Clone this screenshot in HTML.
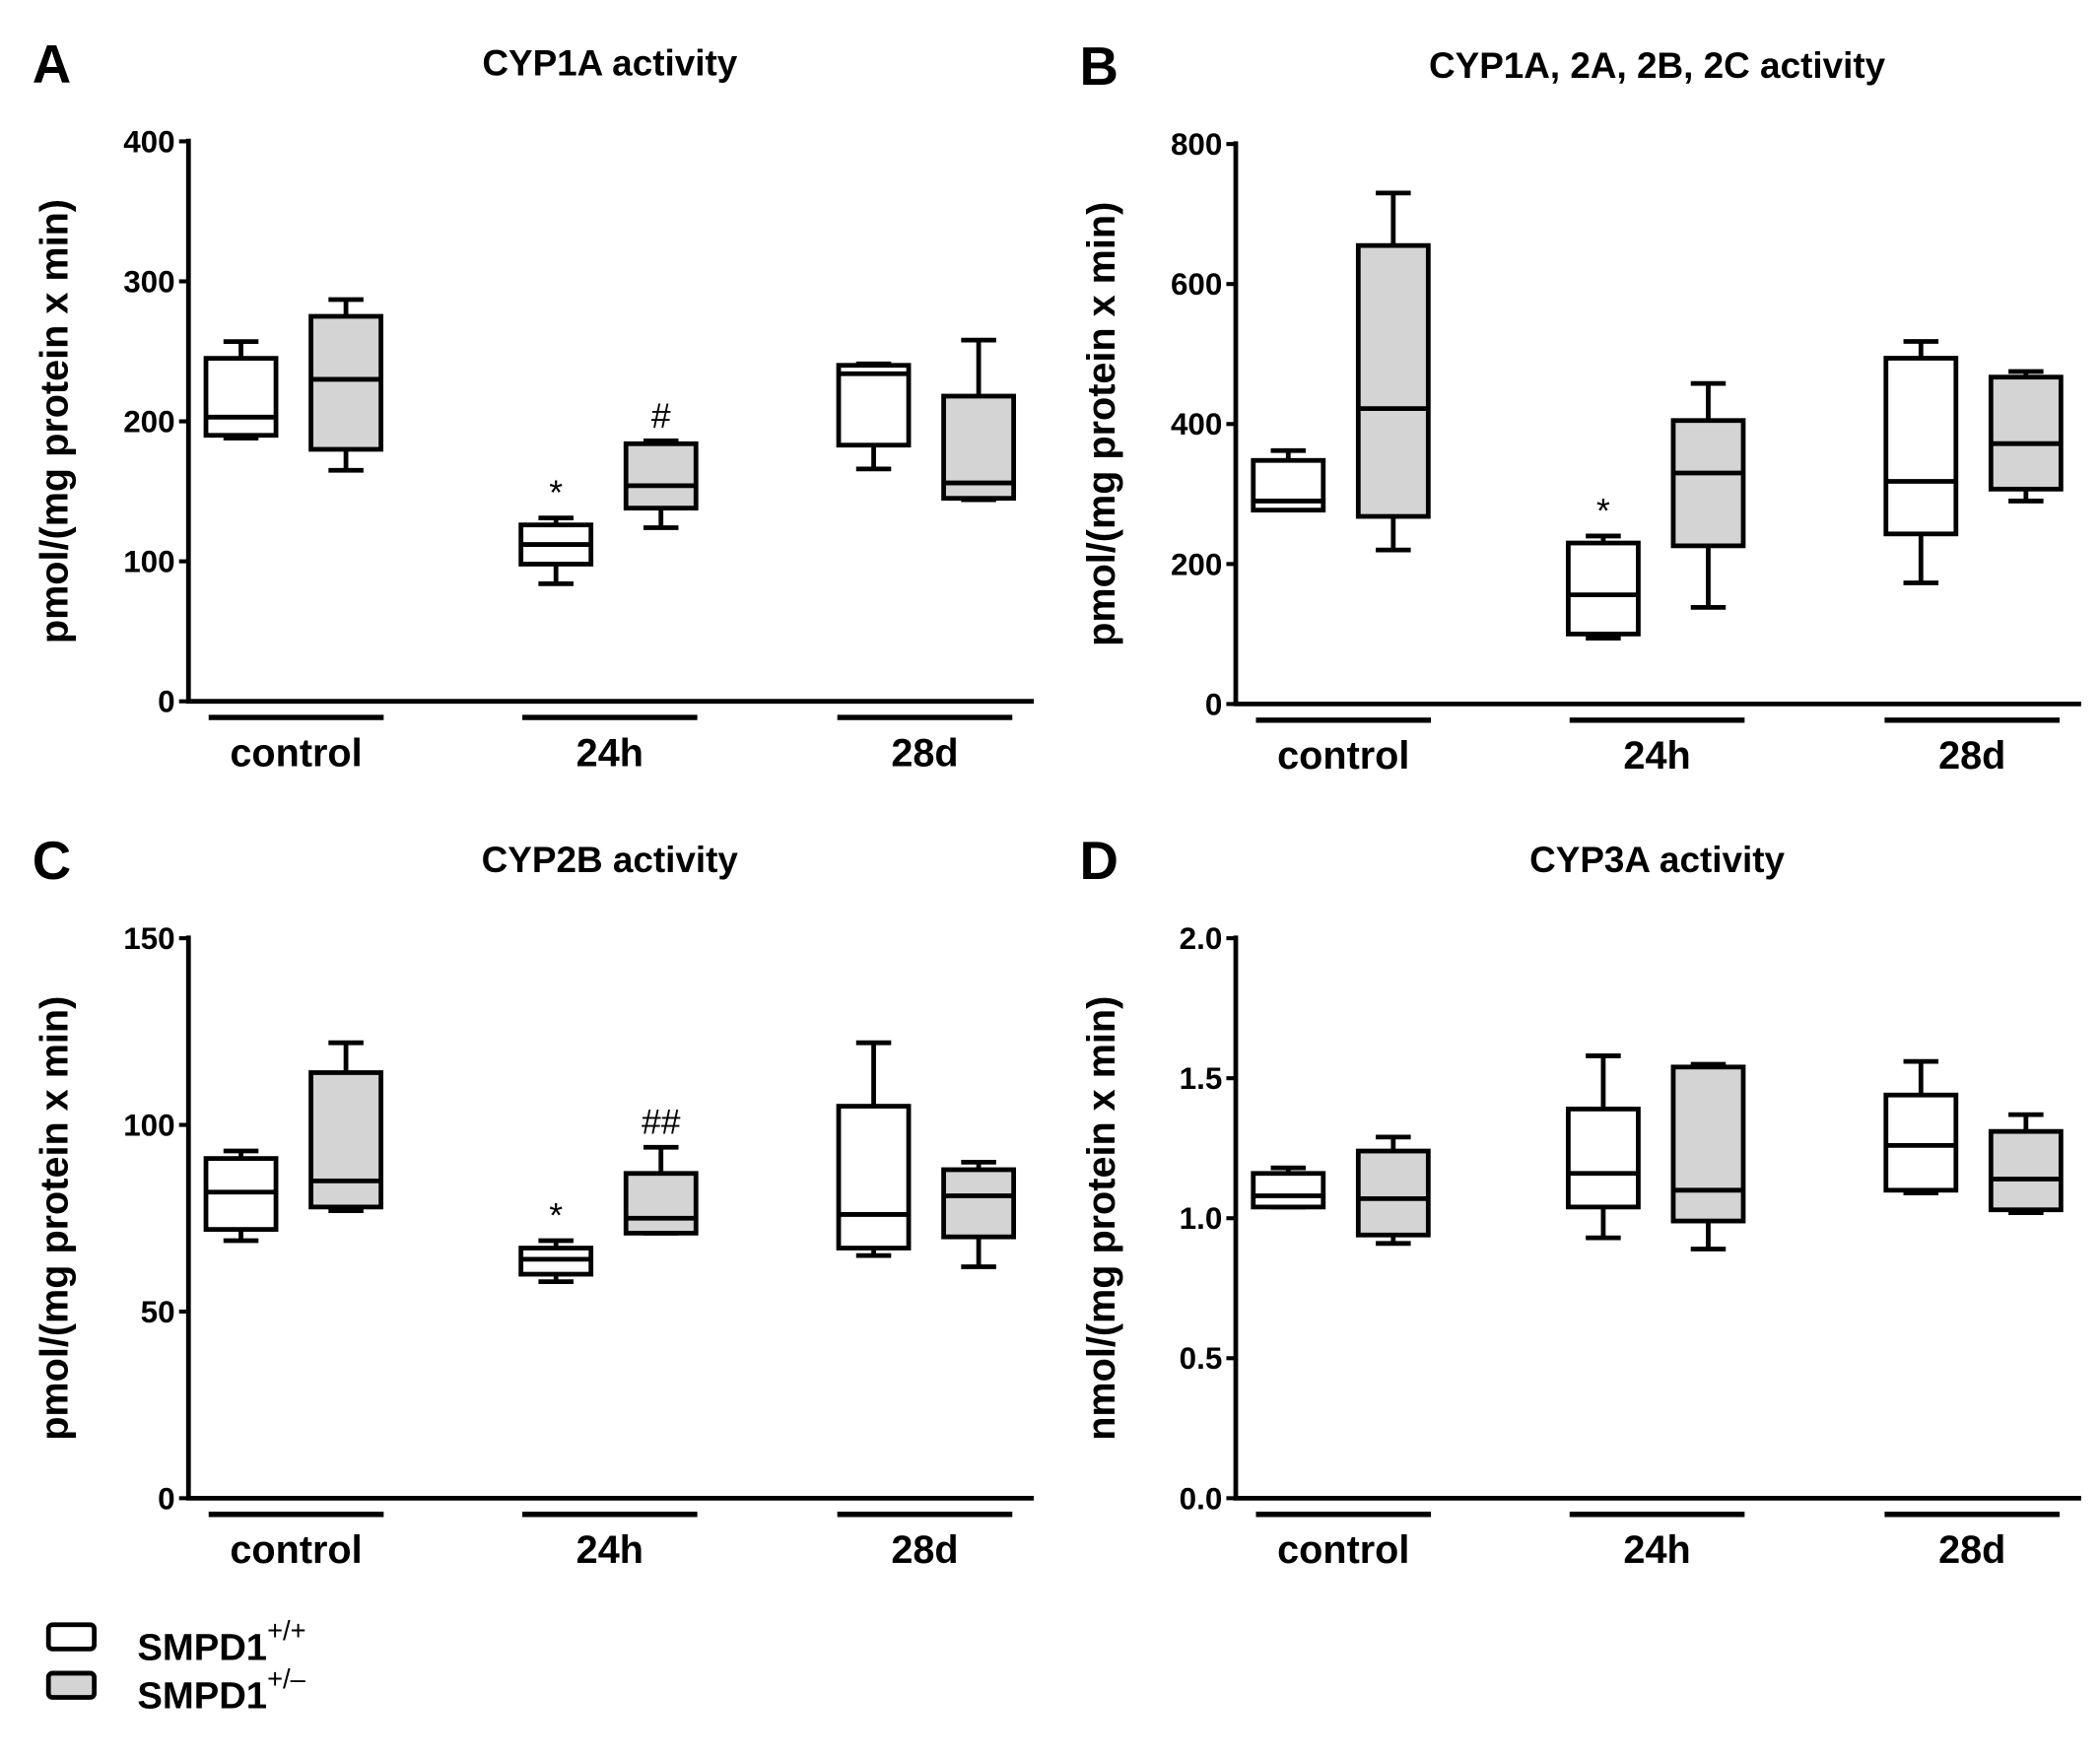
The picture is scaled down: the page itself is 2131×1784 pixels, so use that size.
<!DOCTYPE html>
<html><head><meta charset="utf-8"><style>
html,body{margin:0;padding:0;background:#fff;}
svg{display:block;font-family:"Liberation Sans",Arial,sans-serif;font-weight:bold;}
</style></head><body>
<svg id="fig" width="2131" height="1784" viewBox="0 0 1560 1306"></svg>
<script>
const groups = ["control","24h","28d"];
const aMin=[188,165,84,124,166,144], aQ1=[190,180,98,138,183,145], aMed=[203,230,112,154,234,156], aQ3=[245,275,126,184,240,218], aMax=[257,287,131,186,241,258];
const bMin=[277,220,94,138,173,290], bQ1=[277,268,100,226,243,307], bMed=[290,422,156,330,318,372], bQ3=[348,655,230,405,494,467], bMax=[362,730,240,458,518,475];
const cMin=[69,77,58,71,65,62], cQ1=[72,78,60,71,67,70], cMed=[82,85,64,75,76,81], cQ3=[91,114,67,87,105,88], cMax=[93,122,69,94,122,90];
const dMin=[1.04,0.91,0.93,0.89,1.09,1.02], dQ1=[1.04,0.94,1.04,0.99,1.10,1.03], dMed=[1.08,1.07,1.16,1.10,1.26,1.14], dQ3=[1.16,1.24,1.39,1.54,1.44,1.31], dMax=[1.18,1.29,1.58,1.55,1.56,1.37];
const aTicks=[0,100,200,300,400], bTicks=[0,200,400,600,800], cTicks=[0,50,100,150], dTicks=["0.0","0.5","1.0","1.5","2.0"];
const NS="http://www.w3.org/2000/svg";
const svg=document.getElementById('fig');
function mk(tag,attrs,parent,text){const e=document.createElementNS(NS,tag);for(const k in attrs)e.setAttribute(k,attrs[k]);if(text!==undefined)e.textContent=text;(parent||svg).appendChild(e);return e;}
function panel(name,letter,title,ox,oy,ymax,ticks,ylabel,mins,q1,med,q3,maxs,ann){
  const g=mk('g',{},svg);
  
  
  const y0=oy+416, yS=v=>y0-(v/ymax)*416;
  const L=mk('text',{x:ox-116,y:oy-44,'font-size':40},g,letter);
  
  const T=mk('text',{x:ox+313,y:oy-49,'font-size':27,'text-anchor':'middle'},g,title);
  
  const ax=mk('path',{d:`M${ox} ${oy-2}V${y0}H${ox+628}`,stroke:'#000','stroke-width':3.5,fill:'none'},g);
  
  ticks.forEach(t=>{const y=yS(parseFloat(t));
    mk('line',{x1:ox-7,x2:ox,y1:y,y2:y,stroke:'#000','stroke-width':3},g);
    const tt=mk('text',{x:ox-10,y:y+8,'font-size':23,'text-anchor':'end'},g,t);
    });
  const yl=mk('text',{x:0,y:0,'font-size':29,'text-anchor':'middle',transform:`translate(${ox-90},${oy+208}) rotate(-90)`},g,ylabel);
  
  const gs=[15,248,482];
  groups.forEach((gn,i)=>{
    mk('line',{x1:ox+gs[i],x2:ox+gs[i]+130,y1:y0+12,y2:y0+12,stroke:'#000','stroke-width':4},g);
    const gl=mk('text',{x:ox+gs[i]+65,y:y0+48,'font-size':29,'text-anchor':'middle'},g,gn);
    
  });
  const centers=[39,117,273,351,509,587];
  for(let i=0;i<6;i++){
    const cx=ox+centers[i], hw=26, grey=i%2===1;
    const bg=mk('g',{},g);
    
    
    const st={stroke:'#000','stroke-width':3.5};
    mk('line',Object.assign({x1:cx,x2:cx,y1:yS(maxs[i]),y2:yS(q3[i])},st),bg);
    mk('line',Object.assign({x1:cx,x2:cx,y1:yS(q1[i]),y2:yS(mins[i])},st),bg);
    mk('line',Object.assign({x1:cx-13,x2:cx+13,y1:yS(maxs[i]),y2:yS(maxs[i])},st),bg);
    mk('line',Object.assign({x1:cx-13,x2:cx+13,y1:yS(mins[i]),y2:yS(mins[i])},st),bg);
    mk('rect',Object.assign({x:cx-hw,y:yS(q3[i]),width:2*hw,height:Math.max(0,yS(q1[i])-yS(q3[i])),fill:grey?'#d4d4d4':'#fff'},st),bg);
    mk('line',Object.assign({x1:cx-hw,x2:cx+hw,y1:yS(med[i]),y2:yS(med[i])},st),bg);
  }
  (ann||[]).forEach(a=>{const at=mk('text',{x:ox+centers[a[0]],y:yS(maxs[a[0]])-10,'font-size':26,'font-weight':'normal','text-anchor':'middle'},g,a[1]);
    });
}
panel('a','A','CYP1A activity',140,105,400,aTicks,'pmol/(mg protein x min)',aMin,aQ1,aMed,aQ3,aMax,[[2,'*'],[3,'#']]);
panel('b','B','CYP1A, 2A, 2B, 2C activity',918,107,800,bTicks,'pmol/(mg protein x min)',bMin,bQ1,bMed,bQ3,bMax,[[2,'*']]);
panel('c','C','CYP2B activity',140,697,150,cTicks,'pmol/(mg protein x min)',cMin,cQ1,cMed,cQ3,cMax,[[2,'*'],[3,'##']]);
panel('d','D','CYP3A activity',918,697,2,dTicks,'nmol/(mg protein x min)',dMin,dQ1,dMed,dQ3,dMax,[]);
const lg=mk('g',{},svg);


[['#fff','+/+',1207],['#d4d4d4','+/\u2013',1243]].forEach(l=>{
  const e=mk('g',{},lg);
  
  
  mk('rect',{x:36,y:l[2],width:34,height:18,rx:3,fill:l[0],stroke:'#000','stroke-width':3.5},e);
  const t=mk('text',{x:102,y:l[2]+26,'font-size':28},e,'SMPD1');
  mk('tspan',{dy:-15,'font-size':20,'font-weight':'normal'},t,l[1]);
});
</script>
</body></html>
